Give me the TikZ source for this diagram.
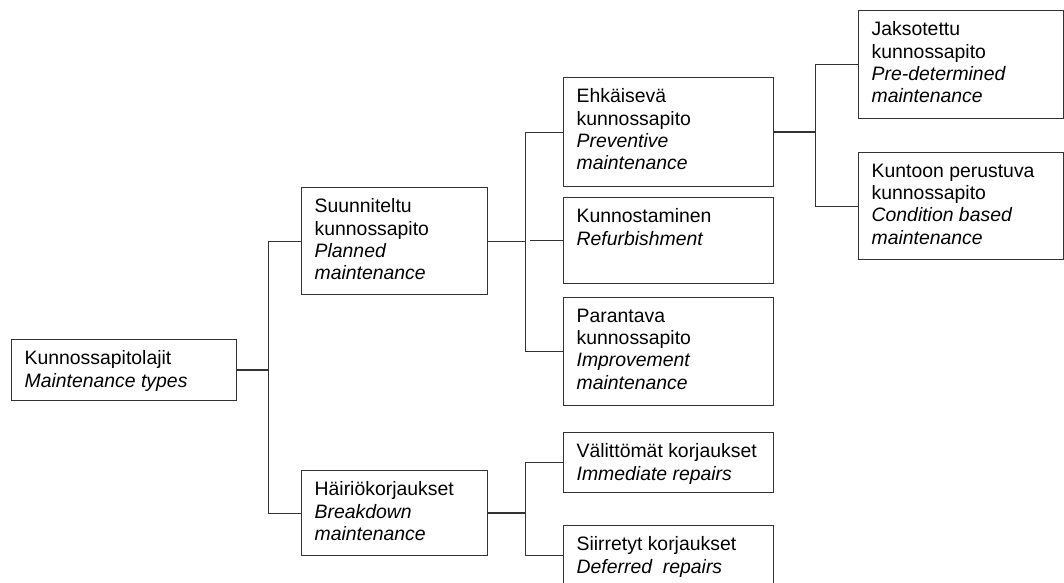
\documentclass[tikz,border=0pt]{standalone}
\usepackage{fontspec}
\setmainfont{Liberation Sans}
\usepackage{xcolor}
\usepackage{tikz}
\definecolor{boxline}{HTML}{333333}
\definecolor{boxtext}{HTML}{000000}
\newcommand{\kpar}[3]{\parbox[t][#2][t]{#1}{#3}}
\tikzset{
  kbox/.style={draw=boxline, line width=1.3pt, anchor=north west,
               inner xsep=13pt, inner ysep=11pt, align=left, text=boxtext,
               font=\fontsize{19.4}{22.4}\selectfont},
  link/.style={draw=boxline, line width=1.2pt},
  thicklink/.style={draw=boxline, line width=2.3pt}
}

\begin{document}
\begin{tikzpicture}[x=1pt, y=-1pt]
  \useasboundingbox (0,0) rectangle (1064,582);
  \clip (0,0) rectangle (1064,582);

  % level 0
  \node[kbox] (types) at (11,339) {\kpar{199pt}{39pt}{%
      Kunnossapitolajit\\
      \textit{Maintenance types}}};

  % level 1
  \node[kbox] (planned) at (301,187) {\kpar{160pt}{85pt}{%
      Suunniteltu\\ kunnossapito\\
      \textit{Planned}\\ \textit{maintenance}}};
  \node[kbox] (breakdown) at (301,470) {\kpar{160pt}{63pt}{%
      Häiriökorjaukset\\
      \textit{Breakdown}\\ \textit{maintenance}}};

  % level 2
  \node[kbox] (preventive) at (563,77) {\kpar{184pt}{87pt}{%
      Ehkäisevä\\ kunnossapito\\
      \textit{Preventive}\\ \textit{maintenance}}};
  \node[kbox] (refurb) at (563,197) {\kpar{184pt}{64pt}{%
      Kunnostaminen\\
      \textit{Refurbishment}}};
  \node[kbox] (improve) at (563,297) {\kpar{184pt}{86pt}{%
      Parantava\\ kunnossapito\\
      \textit{Improvement}\\ \textit{maintenance}}};
  \node[kbox] (immediate) at (563,432) {\kpar{184pt}{38pt}{%
      Välittömät korjaukset\\
      \textit{Immediate repairs}}};
  \node[kbox] (deferred) at (563,525) {\kpar{184pt}{38pt}{%
      Siirretyt korjaukset\\
      \textit{Deferred\ \ repairs}}};

  % level 3
  \node[kbox] (predet) at (858,10) {\kpar{179pt}{86pt}{%
      Jaksotettu\\ kunnossapito\\
      \textit{Pre-determined}\\ \textit{maintenance}}};
  \node[kbox] (condition) at (858,152) {\kpar{179pt}{85pt}{%
      Kuntoon perustuva\\ kunnossapito\\
      \textit{Condition based}\\ \textit{maintenance}}};

  % connectors
  \draw[thicklink] (types.east) -- ++(31,0) coordinate (typesbus);
  \draw[link] (planned.west) -| (typesbus) |- (breakdown.west);

  \draw[link] (planned.east) -- ++(37,0) coordinate (plannedbus);
  \draw[link] (preventive.west) -| (plannedbus) |- (improve.west);
  \draw[link] (refurb.west) -- ++(-33,0) coordinate (refurbend);

  \draw[thicklink] (breakdown.east) -- ++(37,0) coordinate (breakdownbus);
  \draw[link] (immediate.west) -| (breakdownbus) |- (deferred.west);

  \draw[thicklink] (preventive.east) -- ++(41,0) coordinate (preventivebus);
  \draw[link] (predet.west) -| (preventivebus) |- (condition.west);
\end{tikzpicture}
\end{document}
